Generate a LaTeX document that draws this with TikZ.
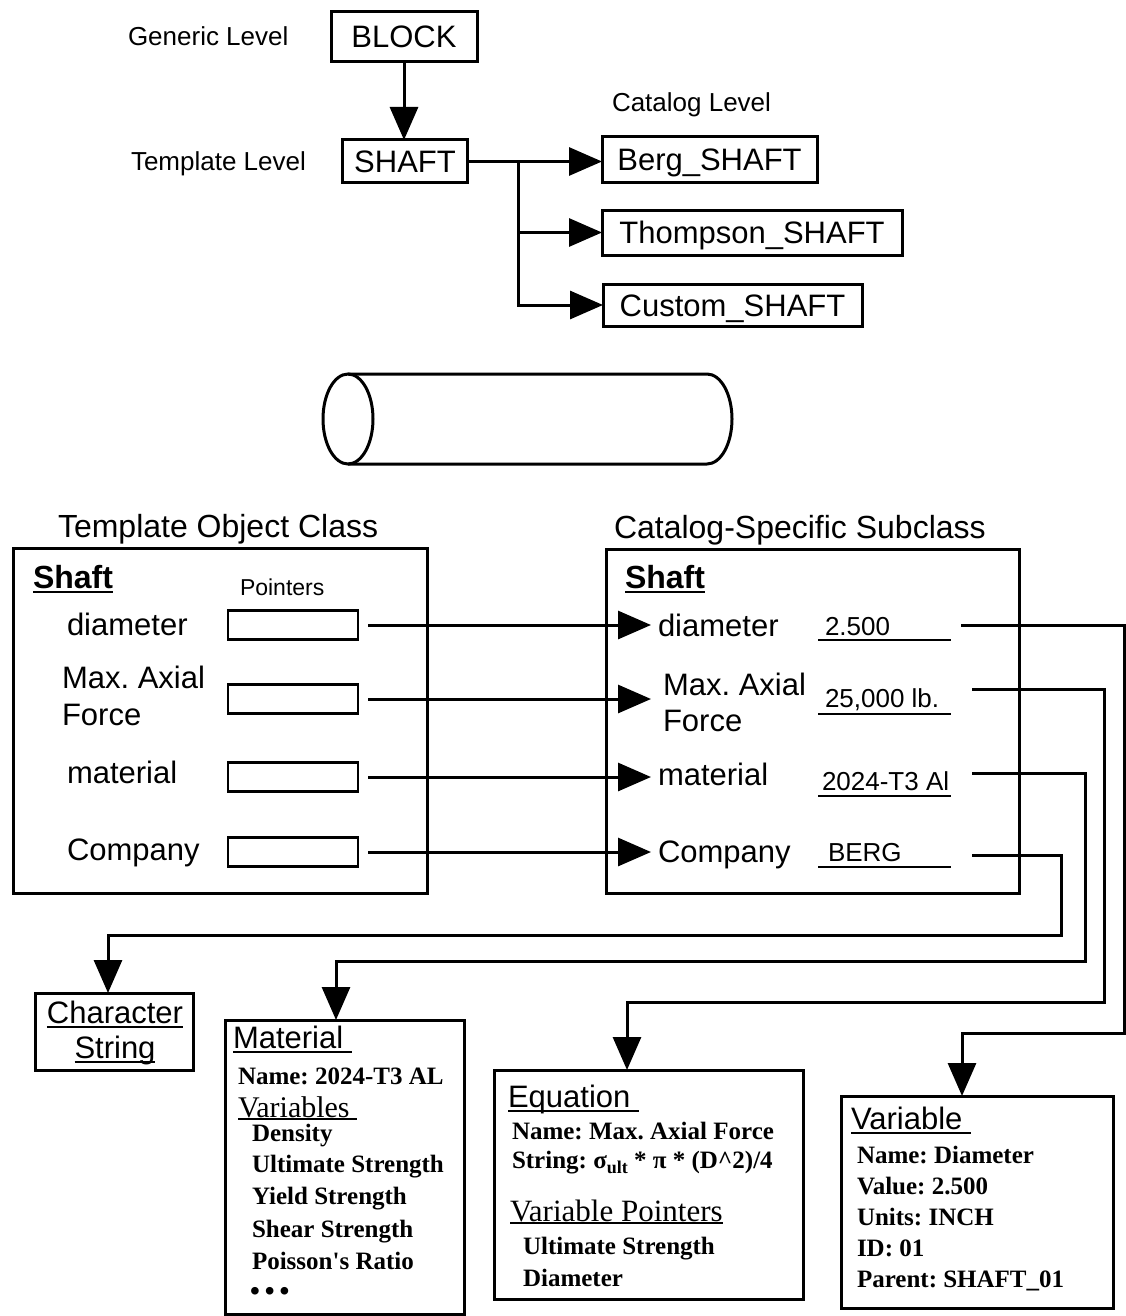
\documentclass[tikz,border=0pt]{standalone}
\usepackage{fontspec}
\setmainfont{Liberation Serif}
\setsansfont{Liberation Sans}
\usetikzlibrary{arrows.meta}
\frenchspacing
\newcommand\fsz[1]{\fontsize{#1}{#1}\selectfont}
\newsavebox\ulbox
% underline drawn at a fixed depth below the baseline, through descenders
\newcommand\ulx[2][5pt]{\sbox\ulbox{#2}\rlap{\rule[-#1]{\wd\ulbox}{2.5pt}}\usebox\ulbox}

\begin{document}
\begin{tikzpicture}[x=1pt,y=-1pt,line width=3pt,
  arr/.style={-{Triangle[length=33pt,width=28pt]}},
  bx/.style={draw,line width=3pt,inner sep=0pt,outer sep=0pt,rectangle},
  ptr/.style={bx,line width=2.5pt,minimum width=130pt,minimum height=29pt},
  boxlab/.style={bx,font=\sffamily\fsz{31},text height=22pt,text depth=0pt},
  lab/.style={anchor=base west,inner sep=0pt,outer sep=0pt,font=\sffamily\fsz{31}},
  rlab/.style={lab,inner xsep=7pt},
  lvl/.style={lab,font=\sffamily\fsz{26}},
  val/.style={lab,font=\sffamily\fsz{26}},
  ser/.style={anchor=base west,inner sep=0pt,outer sep=0pt,font=\bfseries\fsz{25}},
  serhead/.style={anchor=base west,inner sep=0pt,outer sep=0pt,font=\fsz{30}},
  uline/.style={line width=2.5pt},
]
\useasboundingbox (0,0) rectangle (1126,1316);

% ---------------- class hierarchy ----------------
\node[lvl] (genlev) at (128,46) {Generic Level};
\node[lvl] (tmplev) at (131,171) {Template Level};
\node[lvl] (catlev) at (612,112) {Catalog Level};

\node[boxlab,minimum width=146pt,minimum height=50pt] (block) at (404,37) {BLOCK};
\node[boxlab,minimum width=125pt,minimum height=43pt] (shaft) at (405,161.5) {SHAFT};
\node[boxlab,minimum width=215pt,minimum height=46pt] (berg) at (709.5,160) {Berg\_SHAFT};
\node[boxlab,minimum width=300pt,minimum height=45pt] (thom) at (752,232.5) {Thompson\_SHAFT};
\node[boxlab,minimum width=259pt,minimum height=42pt] (cust) at (732.5,305) {Custom\_SHAFT};

\draw[arr] (block.south) -- (block.south |- shaft.north);
\coordinate (jn) at (518,161.5);
\draw[arr] (shaft.east) -- (shaft.east -| berg.west);
\draw[arr] (jn) |- (thom.west);
\draw[arr] (jn) |- (cust.west);

% ---------------- shaft sketch ----------------
\draw (348,419) ellipse [x radius=25,y radius=45];
\draw (348,374) -- (707,374) arc[start angle=-90,end angle=90,x radius=25,y radius=45] -- (348,464);

% ---------------- template / catalog classes ----------------
\node[bx,minimum width=414pt,minimum height=345pt] (tmpl) at (220,720.5) {};
\node[bx,minimum width=413pt,minimum height=344pt] (cat) at (812.5,721) {};
\node[lab,font=\sffamily\fsz{32}] (tmpltitle) at (58,537) {Template Object Class};
\node[lab,font=\sffamily\fsz{32}] (cattitle) at (614,538) {Catalog-Specific Subclass};
\node[lab,font=\sffamily\bfseries\fsz{32}] (lshaft) at (33,588) {\ulx{Shaft}};
\node[lab,font=\sffamily\bfseries\fsz{32}] (rshaft) at (625,588) {\ulx{Shaft}};
\node[lab,font=\sffamily\fsz{23}] (ptrs) at (240,595) {Pointers};

% template attributes
\node[lab] (ldia) at (67,635) {diameter};
\node[lab] (lmax1) at (62,688) {Max. Axial};
\node[lab] (lmax2) at (62,725) {Force};
\node[lab] (lmat) at (67,783) {material};
\node[lab] (lcomp) at (67,860) {Company};

\node[ptr] (pdia) at (293,625) {};
\node[ptr] (pmax) at (293,699) {};
\node[ptr] (pmat) at (293,777) {};
\node[ptr] (pcomp) at (293,852) {};

% catalog attributes
\node[rlab] (rdia) at (651,636) {diameter};
\node[rlab,inner xsep=12pt] (rmax1) at (651,695) {Max. Axial};
\node[lab] (rmax2) at (663,731) {Force};
\node[rlab] (rmat) at (651,785) {material};
\node[rlab] (rcomp) at (651,862) {Company};

\draw[arr] ([xshift=10pt]pdia.east) -- (pdia.east -| rdia.west);
\draw[arr] ([xshift=10pt]pmax.east) -- (pmax.east -| rmax1.west);
\draw[arr] ([xshift=10pt]pmat.east) -- (pmat.east -| rmat.west);
\draw[arr] ([xshift=10pt]pcomp.east) -- (pcomp.east -| rcomp.west);

% attribute values
\node[val] (vdia) at (825,635) {2.500};
\node[val] (vmax) at (825,707) {25,000 lb.};
\node[val] (vmat) at (822,790) {2024-T3 Al};
\node[val] (vcomp) at (828,861) {BERG};
\draw[uline] (818,640) -- (951,640);
\draw[uline] (818,714) -- (951,714);
\draw[uline] (818,796) -- (951,796);
\draw[uline] (818,867) -- (951,867);

% ---------------- referenced objects ----------------
\node[bx,minimum width=158pt,minimum height=77pt] (charbox) at (114,1031.5) {};
\node[bx,minimum width=239pt,minimum height=294pt] (matbox) at (344.5,1167) {};
\node[bx,minimum width=309pt,minimum height=229pt] (eqbox) at (648.5,1184.5) {};
\node[bx,minimum width=272pt,minimum height=212pt] (varbox) at (977,1202) {};

\coordinate (sdia) at (961,625);
\coordinate (smax) at (972,689);
\coordinate (smat) at (972,773);
\coordinate (scomp) at (972,855);
\coordinate (bdia) at (962,1033);
\coordinate (bmax) at (627,1002);
\coordinate (bmat) at (336,961);
\coordinate (bcomp) at (108,935);

\draw[arr] (sdia) -| (1124,1033) -- (bdia) -- (bdia |- varbox.north);
\draw[arr] (smax) -| (1104,1002) -- (bmax) -- (bmax |- eqbox.north);
\draw[arr] (smat) -| (1085,961) -- (bmat) -- (bmat |- matbox.north);
\draw[arr] (scomp) -| (1061,935) -- (bcomp) -- (bcomp |- charbox.north);

% character string
\node[lab,anchor=base] (chr1) at (115,1023) {\ulx{Character}};
\node[lab,anchor=base] (chr2) at (115,1058) {\ulx{String}};

% material
\node[lab] (mathead) at (233,1048) {\ulx{Material\ }};
\node[ser] (matname) at (238,1084) {Name: 2024-T3 AL};
\node[serhead] (matvars) at (238,1117) {\ulx[3pt]{Variables\ }};
\node[ser] (mv1) at (252,1141) {Density};
\node[ser] (mv2) at (252,1172) {Ultimate Strength};
\node[ser] (mv3) at (252,1204) {Yield Strength};
\node[ser] (mv4) at (252,1237) {Shear Strength};
\node[ser] (mv5) at (252,1269) {Poisson\textquotesingle s Ratio};
\node[ser,font=\bfseries\fsz{28}] (mv6) at (250,1300) {•\hspace{5pt}•\hspace{5pt}•};

% equation
\node[lab] (eqhead) at (508,1107) {\ulx{Equation\ }};
\node[ser] (eqname) at (512,1139) {Name: Max. Axial Force};
\node[ser] (eqstr) at (512,1168) {String: σ\raisebox{-5pt}{\fsz{18}ult} * π * (D\textasciicircum 2)/4};
\node[serhead,font=\fsz{31}] (eqvp) at (510,1221) {\ulx[3pt]{Variable Pointers}};
\node[ser] (eqp1) at (523,1254) {Ultimate Strength};
\node[ser] (eqp2) at (523,1286) {Diameter};

% variable
\node[lab] (varhead) at (851,1129) {\ulx{Variable\ }};
\node[ser] (vr1) at (857,1163) {Name: Diameter};
\node[ser] (vr2) at (857,1194) {Value: 2.500};
\node[ser] (vr3) at (857,1225) {Units: INCH};
\node[ser] (vr4) at (857,1256) {ID: 01};
\node[ser] (vr5) at (857,1287) {Parent: SHAFT\_01};
\end{tikzpicture}
\end{document}
